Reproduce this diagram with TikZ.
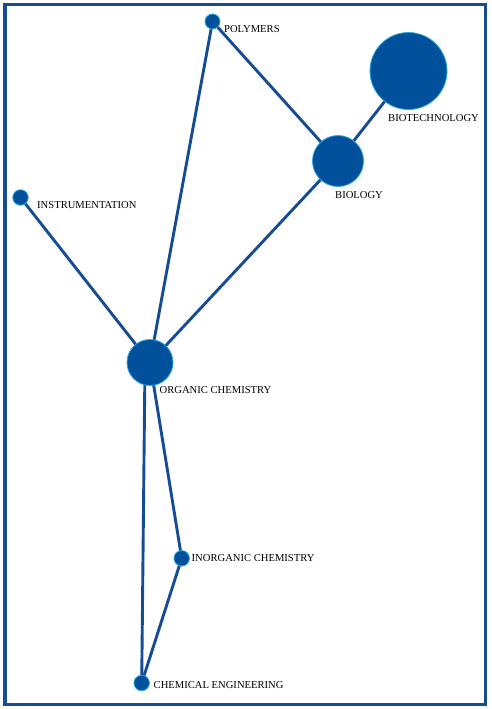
\documentclass[tikz,border=0pt]{standalone}
\usepackage{fontspec}
\setmainfont{Liberation Serif}
\usepackage{tikz}
\usepackage{xcolor}
\usetikzlibrary{positioning, backgrounds}

\definecolor{navy}{HTML}{00509B}
\definecolor{rim}{HTML}{2AA8DE}
\definecolor{linkblue}{HTML}{164C93}

\begin{document}
\begin{tikzpicture}[x=1pt, y=-1pt,
    topic/.style={circle, fill=navy, draw=rim, line width=0.8pt, inner sep=0pt},
    link/.style={linkblue, line width=2.9pt},
    lbl/.style={anchor=west, inner sep=0pt, font=\fontsize{10.6}{12}\selectfont}]
    \useasboundingbox (0,0) rectangle (491,709);

    % Frame
    \draw[linkblue, line width=3.2pt] (5,4.5) rectangle (485.5,704.5);

    % Topics
    \node[topic, minimum size=15pt] (polymers) at (212.5,21.5) {};
    \node[topic, minimum size=77pt] (biotech) at (408.5,71) {};
    \node[topic, minimum size=51pt] (biology) at (338,161) {};
    \node[topic, minimum size=15.5pt] (instrument) at (20.5,197.5) {};
    \node[topic, minimum size=46pt] (organic) at (150,362.5) {};
    \node[topic, minimum size=15.5pt] (inorganic) at (181.7,558.3) {};
    \node[topic, minimum size=15.5pt] (chemeng) at (141.7,683) {};

    % Names
    \node[lbl] (polymers-l) at (224,29.5) {POLYMERS};
    \node[lbl] (biotech-l) at (388,118.5) {BIOTECHNOLOGY};
    \node[lbl] (biology-l) at (335,195.5) {BIOLOGY};
    \node[lbl] (instrument-l) at (37,205) {INSTRUMENTATION};
    \node[lbl] (organic-l) at (159.5,390) {ORGANIC CHEMISTRY};
    \node[lbl] (inorganic-l) at (191.5,558.3) {INORGANIC CHEMISTRY};
    \node[lbl] (chemeng-l) at (153.5,685.3) {CHEMICAL ENGINEERING};

    % Links behind the circles
    \begin{scope}[on background layer]
        \draw[link] (polymers.center) -- (biology.center);
        \draw[link] (polymers.center) -- (organic.center);
        \draw[link] (biology.center) -- (biotech.center);
        \draw[link] (biology.center) -- (organic.center);
        \draw[link] (instrument.center) -- (organic.center);
        \draw[link] (organic.center) -- (inorganic.center);
        \draw[link] ([xshift=-5pt]organic.center) -- (chemeng.center);
        \draw[link] (inorganic.center) -- (chemeng.center);
    \end{scope}
\end{tikzpicture}
\end{document}
